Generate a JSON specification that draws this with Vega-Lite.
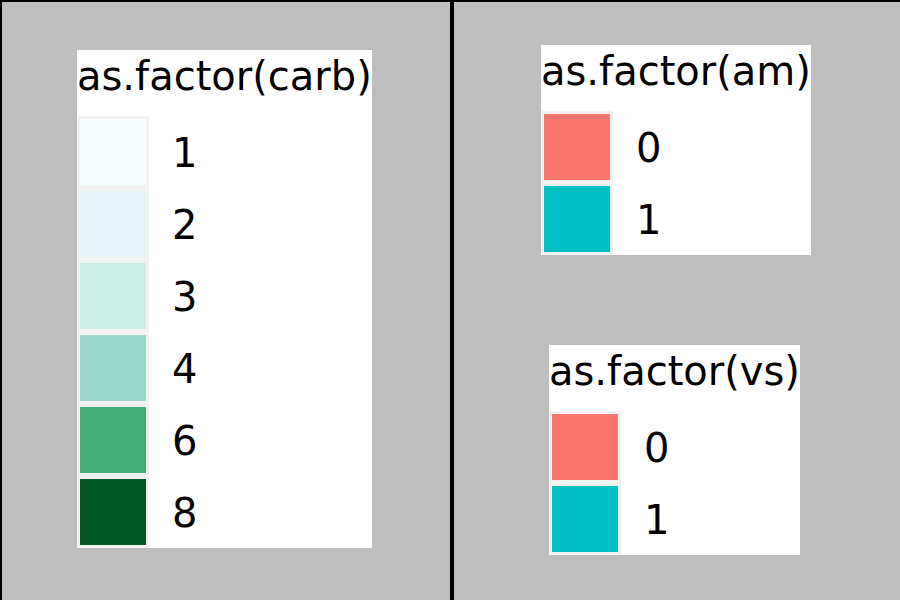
{
  "$schema": "https://vega.github.io/schema/vega-lite/v6.json",
  "background": "#BEBEBE",
  "padding": 0,
  "spacing": 0,
  "config": {
    "view": {"stroke": "black", "strokeWidth": 2, "fill": "#BEBEBE"},
    "legend": {
      "orient": "none",
      "titleFont": "DejaVu Sans",
      "titleFontSize": 40,
      "titleFontWeight": "normal",
      "titleColor": "black",
      "titleBaseline": "line-top",
      "titleLineHeight": 56,
      "titlePadding": 26,
      "titleLimit": 1000,
      "labelFont": "DejaVu Sans",
      "labelFontSize": 40,
      "labelColor": "black",
      "labelBaseline": "middle",
      "labelOffset": 23,
      "symbolType": "square",
      "symbolSize": 4761,
      "symbolStrokeColor": "#F2F2F2",
      "symbolStrokeWidth": 3,
      "symbolOpacity": 1,
      "clipHeight": 72,
      "fillColor": "white",
      "padding": 0,
      "rowPadding": 0
    }
  },
  "hconcat": [
    {
      "width": 450,
      "height": 600,
      "data": {"values": [{"carb": "1"}, {"carb": "2"}, {"carb": "3"}, {"carb": "4"}, {"carb": "6"}, {"carb": "8"}]},
      "mark": {"type": "point", "filled": true, "size": 0, "opacity": 1},
      "encoding": {
        "x": {"datum": 0, "type": "quantitative", "axis": null},
        "y": {"datum": 0, "type": "quantitative", "axis": null},
        "color": {
          "field": "carb",
          "type": "nominal",
          "title": "as.factor(carb)",
          "scale": {"domain": ["1", "2", "3", "4", "6", "8"], "range": ["#F7FCFD", "#E5F5F9", "#CCECE6", "#99D8C9", "#41AE76", "#005824"]},
          "legend": {"legendX": 76, "legendY": 49, "encode": {"labels": {"update": {"dy": {"value": 3}}}}}
        }
      }
    },
    {
      "width": 450,
      "height": 600,
      "encoding": {
        "x": {"datum": 0, "type": "quantitative", "axis": null},
        "y": {"datum": 0, "type": "quantitative", "axis": null}
      },
      "layer": [
        {
          "data": {"values": [{"am": "0"}, {"am": "1"}]},
          "mark": {"type": "point", "filled": true, "size": 0, "opacity": 1},
          "encoding": {
            "color": {
              "field": "am",
              "type": "nominal",
              "title": "as.factor(am)",
              "scale": {"domain": ["0", "1"], "range": ["#F8766D", "#00BFC4"]},
              "legend": {"legendX": 88, "legendY": 44, "encode": {"labels": {"update": {"dy": {"value": 3}}}}}
            }
          }
        },
        {
          "data": {"values": [{"vs": "0"}, {"vs": "1"}]},
          "mark": {"type": "point", "filled": true, "size": 0, "opacity": 1},
          "encoding": {
            "color": {
              "field": "vs",
              "type": "nominal",
              "title": "as.factor(vs)",
              "scale": {"domain": ["0", "1"], "range": ["#F8766D", "#00BFC4"]},
              "legend": {"legendX": 96, "legendY": 344, "encode": {"labels": {"update": {"dy": {"value": 3}}}}}
            }
          }
        }
      ],
      "resolve": {"scale": {"color": "independent"}}
    }
  ]
}
